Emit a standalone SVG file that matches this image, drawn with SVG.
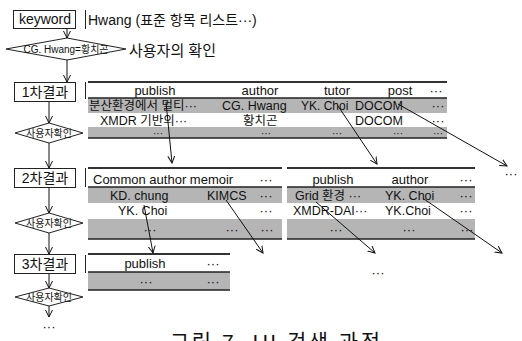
<svg xmlns="http://www.w3.org/2000/svg" width="522" height="341" viewBox="0 0 522 341">
<style>
text{font-family:"Liberation Sans","Noto Sans CJK KR",sans-serif;fill:#111}
.t{font-size:13px}
.r{font-size:12.5px}
.d{font-size:10px;text-anchor:middle}
.m{text-anchor:middle}
.s{font-size:10px;text-anchor:middle}
.box{fill:#fff;stroke:#222;stroke-width:1}
.sep{stroke:#222;stroke-width:1}
.dia{fill:#fff;stroke:#222;stroke-width:1}
.shade{fill:#b5b5b5}
.top{stroke:#333;stroke-width:2}
.hl{stroke:#222;stroke-width:1.6}
.con{stroke:#111;stroke-width:1;fill:none;marker-end:url(#ah)}
</style>
<defs>
<marker id="ah" markerUnits="userSpaceOnUse" markerWidth="8" markerHeight="8" refX="7" refY="4" orient="auto">
<path d="M0,0.5 L7,4 L0,7.5" fill="none" stroke="#111" stroke-width="1"/>
</marker>
</defs>

<g id="keyword">
<rect class="box" x="13.5" y="10.5" width="62" height="18"/>
<line class="sep" x1="85.5" y1="10" x2="85.5" y2="29"/>
<text class="t m" x="45" y="24" style="font-size:14px">keyword</text>
<text x="88" y="25" style="font-size:14px">Hwang (표준 항목 리스트···)</text>
</g>

<g id="confirm0">
<polygon class="dia" points="6,49 67,38 126,49 67,60"/>
<text class="s" x="66" y="53">CG. Hwang=황치곤</text>
<text x="129" y="56" style="font-size:15px">사용자의 확인</text>
</g>

<g id="result1">
<rect class="box" x="14.5" y="82.5" width="61" height="19"/>
<line class="sep" x1="85.5" y1="82" x2="85.5" y2="99"/>
<text class="m" x="45" y="97" style="font-size:14px">1차결과</text>
</g>
<g id="confirm1">
<polygon class="dia" points="15,133 49,123 83,133 49,143"/>
<text class="s" x="49" y="137">사용자확인</text>
</g>
<g id="result2">
<rect class="box" x="14.5" y="168.5" width="61" height="19"/>
<line class="sep" x1="85.5" y1="168" x2="85.5" y2="187"/>
<text class="m" x="45" y="183" style="font-size:14px">2차결과</text>
</g>
<g id="confirm2">
<polygon class="dia" points="15,223 49,213 83,223 49,233"/>
<text class="s" x="49" y="227">사용자확인</text>
</g>
<g id="result3">
<rect class="box" x="14.5" y="254.5" width="61" height="19"/>
<line class="sep" x1="85.5" y1="255" x2="85.5" y2="273"/>
<text class="m" x="45" y="269" style="font-size:14px">3차결과</text>
</g>
<g id="confirm3">
<polygon class="dia" points="15,297 49,288 83,297 49,306"/>
<text class="s" x="49" y="301">사용자확인</text>
</g>
<g id="more">
<text class="t m" x="49" y="331">···</text>
</g>

<g id="table1">
<rect class="shade" x="88" y="98" width="359" height="15"/>
<rect class="shade" x="88" y="127" width="359" height="11"/>
<line class="top" x1="88" y1="82" x2="447" y2="82"/>
<line class="hl" x1="88" y1="98" x2="447" y2="98"/>
<line class="hl" x1="88" y1="138" x2="447" y2="138"/>
<text class="t m" x="155" y="95">publish</text>
<text class="t m" x="260" y="95">author</text>
<text class="t m" x="337" y="95">tutor</text>
<text class="t m" x="400" y="95">post</text>
<text class="t m" x="436" y="95">···</text>
<text class="r" x="89" y="110">분산환경에서 멀티···</text>
<text class="r" x="222" y="110">CG. Hwang</text>
<text class="r" x="301" y="110" style="font-size:12px">YK. Choi</text>
<text class="r" x="355" y="110">DOCOM</text>
<text class="t m" x="438" y="110">···</text>
<text class="r" x="100" y="125">XMDR 기반의···</text>
<text class="r" x="243" y="125">황치곤</text>
<text class="r" x="355" y="125">DOCOM</text>
<text class="t m" x="438" y="125">···</text>
<text class="d" x="158" y="137">···</text>
<text class="d" x="266" y="137">···</text>
<text class="d" x="337" y="137">···</text>
<text class="d" x="398" y="137">···</text>
<text class="d" x="438" y="137">···</text>
</g>

<g id="table2a">
<rect class="shade" x="88" y="187" width="194" height="16"/>
<rect class="shade" x="88" y="219" width="194" height="20"/>
<line class="top" x1="88" y1="168" x2="282" y2="168"/>
<line class="hl" x1="88" y1="187" x2="282" y2="187"/>
<line class="hl" x1="88" y1="239" x2="282" y2="239"/>
<text class="t" x="93" y="184">Common author memoir</text>
<text class="t m" x="266" y="184">···</text>
<text class="r" x="110" y="200">KD. chung</text>
<text class="r" x="207" y="200">KIMCS</text>
<text class="t m" x="266" y="200">···</text>
<text class="r" x="118" y="215">YK. Choi</text>
<text class="t m" x="266" y="215">···</text>
<text class="t m" x="150" y="234">···</text>
<text class="t m" x="232" y="234">···</text>
<text class="t m" x="267" y="234">···</text>
</g>

<g id="table2b">
<rect class="shade" x="287" y="187" width="188" height="16"/>
<rect class="shade" x="287" y="219" width="188" height="20"/>
<line class="top" x1="287" y1="168" x2="475" y2="168"/>
<line class="hl" x1="287" y1="187" x2="475" y2="187"/>
<line class="hl" x1="287" y1="239" x2="475" y2="239"/>
<text class="t m" x="333" y="184">publish</text>
<text class="t m" x="410" y="184">author</text>
<text class="t m" x="466" y="184">···</text>
<text class="r" x="295" y="200">Grid 환경 ···</text>
<text class="r" x="385" y="200">YK. Choi</text>
<text class="t m" x="466" y="200">···</text>
<text class="r" x="293" y="215">XMDR-DAI···</text>
<text class="r" x="385" y="215">YK.Choi</text>
<text class="t m" x="466" y="215">···</text>
<text class="t m" x="336" y="234">···</text>
<text class="t m" x="409" y="234">···</text>
<text class="t m" x="467" y="234">···</text>
</g>

<g id="table3">
<rect class="shade" x="88" y="272" width="142" height="18"/>
<line class="top" x1="88" y1="254" x2="230" y2="254"/>
<line class="hl" x1="88" y1="272" x2="230" y2="272"/>
<line class="hl" x1="88" y1="290" x2="230" y2="290"/>
<text class="t m" x="145" y="268">publish</text>
<text class="t m" x="213" y="268">···</text>
<text class="t m" x="146" y="286">···</text>
<text class="t m" x="213" y="286">···</text>
</g>

<g id="ellipses">
<text class="t m" x="511" y="178">···</text>
<text class="t m" x="378" y="277">···</text>
</g>

<g id="connectors">
<line class="con" x1="67" y1="29" x2="67" y2="38"/>
<line class="con" x1="67" y1="60" x2="67" y2="82"/>
<line class="con" x1="49" y1="102" x2="49" y2="123"/>
<line class="con" x1="49" y1="143" x2="49" y2="168"/>
<line class="con" x1="49" y1="188" x2="49" y2="213"/>
<line class="con" x1="49" y1="233" x2="49" y2="254"/>
<line class="con" x1="49" y1="274" x2="49" y2="288"/>
<line class="con" x1="49" y1="306" x2="49" y2="317"/>
<line class="con" x1="166" y1="102" x2="172" y2="163"/>
<line class="con" x1="338" y1="106" x2="377" y2="164"/>
<line class="con" x1="398" y1="104" x2="507" y2="166"/>
<line class="con" x1="144" y1="205" x2="153" y2="253"/>
<line class="con" x1="226" y1="200" x2="263" y2="253"/>
<line class="con" x1="316" y1="202" x2="375" y2="253"/>
<line class="con" x1="424" y1="199" x2="502" y2="253"/>
</g>

<text x="170" y="349" style="font-size:21px" textLength="210" lengthAdjust="spacing">그림 7. UI 검색 과정</text>
</svg>
